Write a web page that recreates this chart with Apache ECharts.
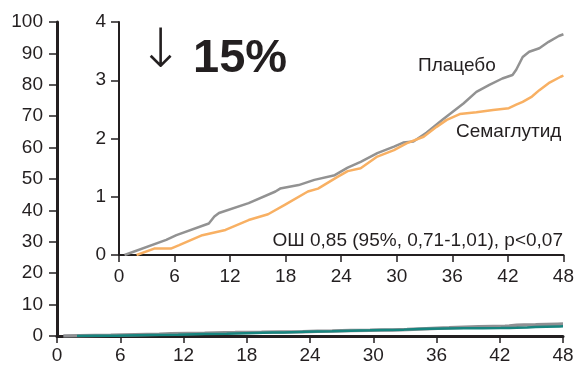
<!DOCTYPE html>
<html>
<head>
<meta charset="utf-8">
<script src="https://cdn.jsdelivr.net/npm/echarts@6/dist/echarts.min.js"></script>
<style>
  html, body { margin: 0; padding: 0; background: #fff; }
  #chart { width: 577px; height: 365px; }
</style>
</head>
<body>
<div id="chart"></div>
<script>
// Cumulative incidence (%) by month of follow-up
const monthTicks = [0, 6, 12, 18, 24, 30, 36, 42, 48];
const outerYTicks = [0, 10, 20, 30, 40, 50, 60, 70, 80, 90, 100];
const insetYTicks = [0, 1, 2, 3, 4];

const placeboMonths = [0.6, 5.1, 6.2, 9.7, 10.3, 10.8, 14.0, 16.9, 17.4, 19.4, 21.1, 23.3, 24.7, 26.1, 27.9, 29.7, 30.7, 31.8, 33.2, 35.0, 37.2, 38.6, 40.0, 41.4, 42.5, 42.9, 43.6, 44.3, 45.4, 46.4, 47.5, 48.0];
const placeboValues = [0.00, 0.26, 0.34, 0.54, 0.66, 0.72, 0.89, 1.09, 1.14, 1.20, 1.29, 1.37, 1.50, 1.60, 1.75, 1.86, 1.93, 1.95, 2.10, 2.33, 2.60, 2.80, 2.92, 3.03, 3.09, 3.18, 3.40, 3.49, 3.55, 3.66, 3.76, 3.79];

const semaMonths = [1.9, 3.8, 5.6, 6.5, 9.0, 11.5, 14.0, 16.1, 17.9, 20.4, 21.5, 23.6, 24.7, 26.1, 27.9, 29.7, 31.1, 32.9, 34.3, 35.4, 36.8, 38.6, 40.4, 42.1, 42.9, 43.6, 44.6, 45.4, 46.4, 47.7, 48.0];
const semaValues = [0.00, 0.11, 0.11, 0.17, 0.34, 0.43, 0.60, 0.70, 0.86, 1.09, 1.14, 1.34, 1.44, 1.49, 1.69, 1.80, 1.92, 2.03, 2.20, 2.32, 2.42, 2.45, 2.49, 2.52, 2.58, 2.63, 2.72, 2.83, 2.95, 3.06, 3.08];

const placeboName = 'Плацебо';
const semaName = 'Семаглутид';
const reductionText = '15%';
const oddsText = 'ОШ 0,85 (95%, 0,71-1,01), p<0,07';

const pairs = (xs, ys) => xs.map((x, i) => [x, ys[i]]);
const FONT = '"Liberation Sans", Arial, sans-serif';
const INK = '#231f20';

function xAxis(gridIndex, lineWidth, margin) {
  return {
    type: 'value', gridIndex,
    min: monthTicks[0], max: monthTicks[monthTicks.length - 1], interval: 6,
    axisLine: { show: true, lineStyle: { color: INK, width: lineWidth } },
    axisTick: { show: true, length: 7, lineStyle: { color: INK, width: 1.5 } },
    axisLabel: { color: INK, fontFamily: FONT, fontSize: 19, margin: margin },
    splitLine: { show: false }
  };
}
function yAxis(gridIndex, ticks, lineWidth, margin) {
  return {
    type: 'value', gridIndex,
    min: ticks[0], max: ticks[ticks.length - 1], interval: ticks[1] - ticks[0],
    axisLine: { show: true, lineStyle: { color: INK, width: lineWidth } },
    axisTick: { show: true, length: 8, lineStyle: { color: INK, width: 1.5 } },
    axisLabel: { color: INK, fontFamily: FONT, fontSize: 19, margin: margin },
    splitLine: { show: false }
  };
}

const chart = echarts.init(document.getElementById('chart'), null, { renderer: 'canvas' });
chart.setOption({
  animation: false,
  backgroundColor: '#ffffff',
  grid: [
    { left: 57, right: 14, top: 22, bottom: 27 },
    { left: 119, right: 9, top: 22, bottom: 110 }
  ],
  xAxis: [xAxis(0, 3, 10), xAxis(1, 2, 12)],
  yAxis: [yAxis(0, outerYTicks, 3, 14), yAxis(1, insetYTicks, 2, 13)],
  series: [
    { type: 'line', xAxisIndex: 0, yAxisIndex: 0, data: pairs(placeboMonths, placeboValues),
      showSymbol: false, lineStyle: { color: '#8e9093', width: 3.5 }, z: 2 },
    { type: 'line', xAxisIndex: 0, yAxisIndex: 0, data: pairs(semaMonths, semaValues),
      showSymbol: false, lineStyle: { color: '#17857f', width: 2.5 }, z: 3 },
    { type: 'line', xAxisIndex: 1, yAxisIndex: 1, data: pairs(placeboMonths, placeboValues),
      showSymbol: false, lineStyle: { color: '#929292', width: 2.5 }, z: 3 },
    { type: 'line', xAxisIndex: 1, yAxisIndex: 1, data: pairs(semaMonths, semaValues),
      showSymbol: false, lineStyle: { color: '#f8b063', width: 2.5 }, z: 4 }
  ],
  graphic: [
    { type: 'text', left: 138, top: 26, style: { text: '↓', fill: INK, font: '300 54px "DejaVu Sans", sans-serif' } },
    { type: 'text', left: 193, top: 36, style: { text: reductionText, fill: INK, font: 'bold 47px ' + FONT } },
    { type: 'text', left: 418, top: 56, style: { text: placeboName, fill: INK, font: '19px ' + FONT } },
    { type: 'text', left: 456, top: 122, style: { text: semaName, fill: INK, font: '19px ' + FONT } },
    { type: 'text', right: 14, top: 231, style: { text: oddsText, fill: INK, font: '19px ' + FONT } }
  ]
});
</script>
</body>
</html>
